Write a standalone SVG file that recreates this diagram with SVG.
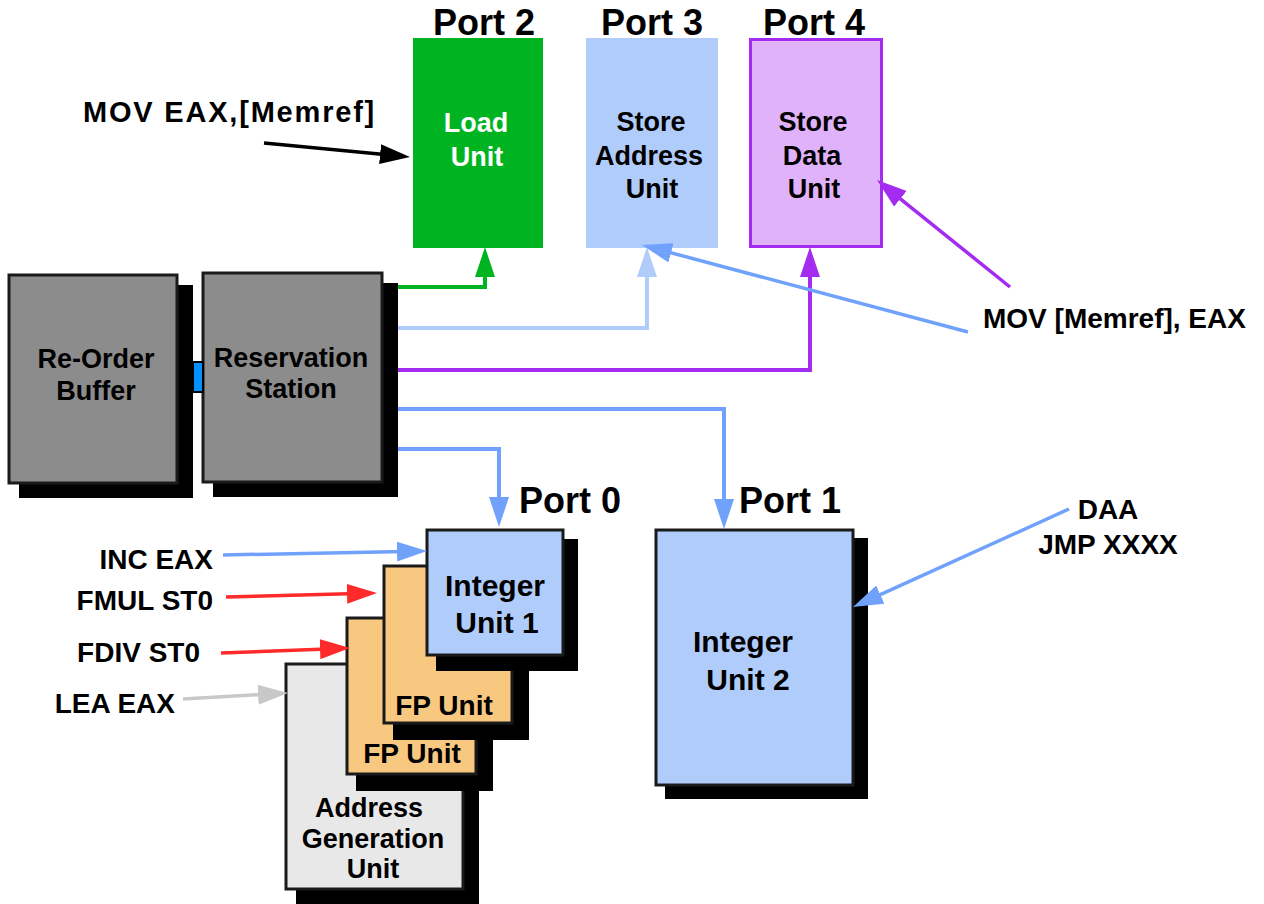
<svg xmlns="http://www.w3.org/2000/svg" width="1264" height="904" viewBox="0 0 1264 904">
<style>
text{font-family:"Liberation Sans",Arial,sans-serif;font-weight:bold;fill:#000}
.port{font-size:36px;text-anchor:middle}
.lbl{font-size:27px;text-anchor:middle}
.big{font-size:30px;text-anchor:middle}
.ins{font-size:28px}
.sh{fill:#000}
.box{stroke:#1a1a1a;stroke-width:3}
.ln{fill:none;stroke-width:4;stroke-linejoin:miter}
.ar{fill:none;stroke-width:3.5}
</style>
<defs>
<marker id="mGreen" viewBox="0 0 30 20" markerWidth="30" markerHeight="20" markerUnits="userSpaceOnUse" refX="20" refY="10" orient="auto"><path d="M0,0L30,10L0,20z" fill="#00b421"/></marker>
<marker id="mLblue" viewBox="0 0 30 20" markerWidth="30" markerHeight="20" markerUnits="userSpaceOnUse" refX="20" refY="10" orient="auto"><path d="M0,0L30,10L0,20z" fill="#b0ccfb"/></marker>
<marker id="mPurple" viewBox="0 0 30 20" markerWidth="30" markerHeight="20" markerUnits="userSpaceOnUse" refX="20" refY="10" orient="auto"><path d="M0,0L30,10L0,20z" fill="#a32cf0"/></marker>
<marker id="mBlue" viewBox="0 0 30 20" markerWidth="30" markerHeight="20" markerUnits="userSpaceOnUse" refX="20" refY="10" orient="auto"><path d="M0,0L30,10L0,20z" fill="#70a2fc"/></marker>
<marker id="mRed" viewBox="0 0 30 20" markerWidth="30" markerHeight="20" markerUnits="userSpaceOnUse" refX="20" refY="10" orient="auto"><path d="M0,0L30,10L0,20z" fill="#ff2a2a"/></marker>
<marker id="mGray" viewBox="0 0 30 20" markerWidth="30" markerHeight="20" markerUnits="userSpaceOnUse" refX="20" refY="10" orient="auto"><path d="M0,0L30,10L0,20z" fill="#c8c8c8"/></marker>
<marker id="mBlack" viewBox="0 0 30 20" markerWidth="30" markerHeight="20" markerUnits="userSpaceOnUse" refX="20" refY="10" orient="auto"><path d="M0,0L30,10L0,20z" fill="#000"/></marker>
</defs>
<rect width="1264" height="904" fill="#fff"/>

<g id="rob">
<rect class="sh" x="19" y="285" width="174" height="213"/>
<rect class="box" x="9" y="275" width="168" height="208" fill="#8c8c8c"/>
<text class="lbl" x="96" y="368">Re-Order</text>
<text class="lbl" x="96" y="400">Buffer</text>
</g>

<g id="rs">
<rect class="sh" x="213" y="283" width="185" height="214"/>
<rect class="box" x="203" y="273" width="179" height="209" fill="#8c8c8c"/>
<text class="lbl" x="291" y="367">Reservation</text>
<text class="lbl" x="291" y="398">Station</text>
</g>

<g id="load-unit">
<text class="port" x="484" y="35">Port 2</text>
<rect x="413" y="38" width="130" height="210" fill="#00b421"/>
<text class="lbl" x="476" y="132" style="fill:#fff">Load</text>
<text class="lbl" x="477" y="166" style="fill:#fff">Unit</text>
</g>

<g id="store-address-unit">
<text class="port" x="652" y="35">Port 3</text>
<rect x="586" y="38" width="132" height="210" fill="#b0ccfb"/>
<text class="lbl" x="651" y="131">Store</text>
<text class="lbl" x="649" y="165">Address</text>
<text class="lbl" x="652" y="198">Unit</text>
</g>

<g id="store-data-unit">
<text class="port" x="814" y="35">Port 4</text>
<rect x="750.5" y="39.5" width="131" height="207" fill="#e0b2fa" stroke="#a32cf0" stroke-width="3"/>
<text class="lbl" x="813" y="131">Store</text>
<text class="lbl" x="812" y="165">Data</text>
<text class="lbl" x="814" y="198">Unit</text>
</g>

<g id="agu">
<rect class="sh" x="296" y="673" width="183" height="231"/>
<rect class="box" x="286" y="664" width="177" height="225" fill="#e8e8e8"/>
<text class="lbl" x="369" y="817">Address</text>
<text class="lbl" x="373" y="848">Generation</text>
<text class="lbl" x="373" y="878">Unit</text>
</g>

<g id="fp-unit-2">
<rect class="sh" x="356" y="627" width="137" height="164"/>
<rect class="box" x="347" y="618" width="129" height="156" fill="#f9c880"/>
<text class="ins" x="412" y="763" text-anchor="middle">FP Unit</text>
</g>

<g id="fp-unit-1">
<rect class="sh" x="393" y="575" width="136" height="165"/>
<rect class="box" x="384" y="566" width="128" height="157" fill="#f9c880"/>
<text class="ins" x="444" y="715" text-anchor="middle">FP Unit</text>
</g>

<g id="integer-unit-1">
<text class="port" x="570" y="513">Port 0</text>
<rect class="sh" x="436" y="539" width="142" height="132"/>
<rect class="box" x="427" y="530" width="136" height="125" fill="#b0ccfb"/>
<text class="big" x="495" y="596">Integer</text>
<text class="big" x="497" y="633">Unit 1</text>
</g>

<g id="integer-unit-2">
<text class="port" x="790" y="513">Port 1</text>
<rect class="sh" x="665" y="538" width="203" height="261"/>
<rect class="box" x="656" y="530" width="197" height="255" fill="#b0ccfb"/>
<text class="big" x="743" y="652">Integer</text>
<text class="big" x="748" y="690">Unit 2</text>
</g>

<g id="labels">
<text class="ins" x="83" y="122" style="font-size:29px;letter-spacing:1.8px">MOV EAX,[Memref]</text>
<text class="ins" x="983" y="328">MOV [Memref], EAX</text>
<text class="ins" x="1108" y="519" text-anchor="middle">DAA</text>
<text class="ins" x="1108" y="554" text-anchor="middle">JMP XXXX</text>
<text class="ins" x="213" y="569" text-anchor="end">INC EAX</text>
<text class="ins" x="213" y="610" text-anchor="end">FMUL ST0</text>
<text class="ins" x="200" y="662" text-anchor="end">FDIV ST0</text>
<text class="ins" x="175" y="713" text-anchor="end">LEA EAX</text>
</g>

<g id="connectors">
<rect x="193" y="362" width="10" height="30" fill="#0090ff" stroke="#000" stroke-width="2"/>
<path class="ln" d="M398,287H485V257" stroke="#00b421" marker-end="url(#mGreen)"/>
<path class="ln" d="M398,328H647V257" stroke="#b0ccfb" stroke-width="5" marker-end="url(#mLblue)"/>
<path class="ln" d="M398,370H810V257" stroke="#a32cf0" marker-end="url(#mPurple)"/>
<path class="ln" d="M398,409H724V519" stroke="#70a2fc" marker-end="url(#mBlue)"/>
<path class="ln" d="M398,449H499V517" stroke="#70a2fc" marker-end="url(#mBlue)"/>
<path class="ar" d="M264,143L400,156" stroke="#000" stroke-width="3" marker-end="url(#mBlack)"/>
<path class="ar" d="M968,332L651.7,247.6" stroke="#70a2fc" marker-end="url(#mBlue)"/>
<path class="ar" d="M1010,287L884.8,186.3" stroke="#a32cf0" marker-end="url(#mPurple)"/>
<path class="ar" d="M1069,509L862.1,602.9" stroke="#70a2fc" marker-end="url(#mBlue)"/>
<path class="ar" d="M223,555L417,551.2" stroke="#70a2fc" marker-end="url(#mBlue)"/>
<path class="ar" d="M226,597L367,593.3" stroke="#ff2a2a" marker-end="url(#mRed)"/>
<path class="ar" d="M221,653L340,648.4" stroke="#ff2a2a" marker-end="url(#mRed)"/>
<path class="ar" d="M183,699L278,693.6" stroke="#c8c8c8" marker-end="url(#mGray)"/>
</g>
</svg>
